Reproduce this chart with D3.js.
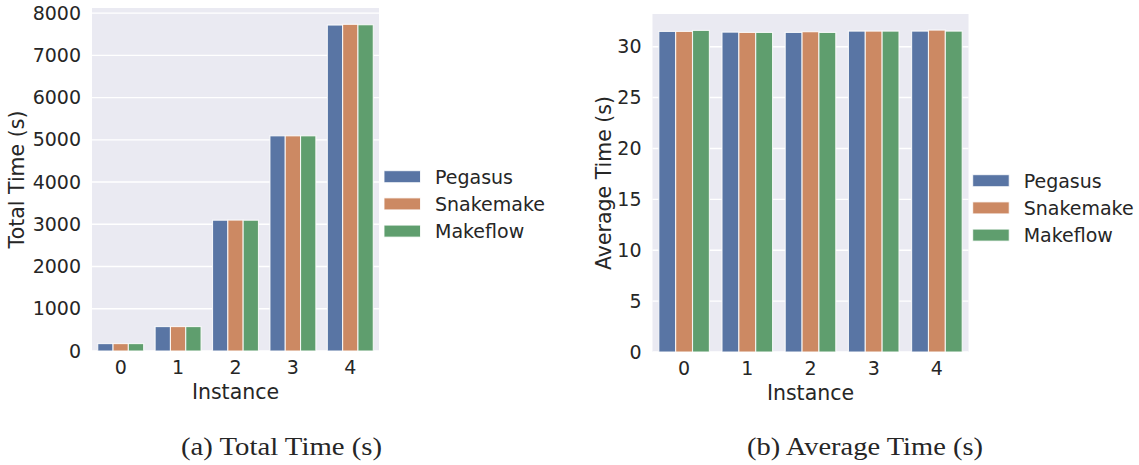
<!DOCTYPE html>
<html>
<head>
<meta charset="utf-8">
<script src="https://cdn.jsdelivr.net/npm/d3@7"></script>
<style>
  html, body { margin: 0; padding: 0; background: #ffffff; }
  svg { display: block; }
  text { font-family: "DejaVu Sans", sans-serif; fill: #262626; }
</style>
</head>
<body>
<svg id="fig" width="1139" height="465"></svg>
<script>
// Instances and workflow systems
const instances = ["0", "1", "2", "3", "4"];
const systems = ["Pegasus", "Snakemake", "Makeflow"];
const systemColors = ["#5975a4", "#cc8963", "#5f9e6e"];

// Total time (s) per instance, one array per system
const totalPegasus   = [175, 578, 3097, 5095, 7718];
const totalSnakemake = [175, 578, 3100, 5095, 7735];
const totalMakeflow  = [175, 578, 3097, 5095, 7725];

// Average time (s) per instance, one array per system
const avgPegasus   = [31.50, 31.43, 31.40, 31.53, 31.53];
const avgSnakemake = [31.50, 31.40, 31.47, 31.53, 31.63];
const avgMakeflow  = [31.60, 31.40, 31.40, 31.53, 31.53];

// Tick values
const totalTicks = [0, 1000, 2000, 3000, 4000, 5000, 6000, 7000, 8000];
const avgTicks = [0, 5, 10, 15, 20, 25, 30];

const svg = d3.select("#fig");

function panel(cfg) {
  const { x0, x1, y0, y1, series, ticks, yLabel, yLabelX, legendX, legendY, caption, captionX, captionW } = cfg;
  const g = svg.append("g");

  const ymax = d3.max(series.flat()) * 1.05;
  const y = d3.scaleLinear().domain([0, ymax]).range([y1, y0]);
  const x = d3.scaleBand().domain(instances).range([x0, x1]).paddingInner(0.2).paddingOuter(0.1);
  const xs = d3.scaleBand().domain(systems).range([0, x.bandwidth()]);

  // plot background
  g.append("rect").attr("x", x0).attr("y", y0).attr("width", x1 - x0).attr("height", y1 - y0).attr("fill", "#eaeaf2");

  // horizontal grid
  g.append("g").selectAll("line").data(ticks).join("line")
    .attr("x1", x0).attr("x2", x1)
    .attr("y1", d => y(d)).attr("y2", d => y(d))
    .attr("stroke", "#ffffff").attr("stroke-width", 1.4);

  // bars
  const rows = [];
  series.forEach((vals, si) => vals.forEach((v, ii) => rows.push({ s: systems[si], si, inst: instances[ii], v })));
  g.append("g").selectAll("rect").data(rows).join("rect")
    .attr("x", d => x(d.inst) + xs(d.s))
    .attr("width", xs.bandwidth())
    .attr("y", d => y(d.v))
    .attr("height", d => y(0) - y(d.v))
    .attr("fill", d => systemColors[d.si])
    .attr("stroke", "#ffffff").attr("stroke-opacity", 0.85).attr("stroke-width", 1.1);

  // y axis
  const ya = g.append("g").attr("transform", `translate(${x0},0)`)
    .call(d3.axisLeft(y).tickValues(ticks).tickSize(0).tickPadding(11).tickFormat(d3.format("d")));
  ya.select(".domain").remove();
  ya.selectAll("text").style("font-size", "19px").style("font-family", "DejaVu Sans").attr("fill", "#262626");

  // x axis
  const xa = g.append("g").attr("transform", `translate(0,${y1})`)
    .call(d3.axisBottom(x).tickSize(0).tickPadding(10));
  xa.select(".domain").remove();
  xa.selectAll("text").style("font-size", "19px").style("font-family", "DejaVu Sans").attr("fill", "#262626");

  // axis labels
  g.append("text").attr("x", (x0 + x1) / 2).attr("y", y1 + 48)
    .attr("text-anchor", "middle").style("font-size", "20.5px").text("Instance");
  g.append("text")
    .attr("transform", `translate(${yLabelX},${(y0 + y1) / 2}) rotate(-90)`)
    .attr("text-anchor", "middle").style("font-size", "20.5px").text(yLabel);

  // legend
  const lg = g.append("g").attr("transform", `translate(${legendX},${legendY})`);
  systems.forEach((s, i) => {
    const row = lg.append("g").attr("transform", `translate(0,${i * 27.2})`);
    row.append("rect").attr("x", 0).attr("y", -6).attr("width", 36.5).attr("height", 12)
      .attr("fill", systemColors[i]).attr("stroke", "#ffffff").attr("stroke-opacity", 0.85).attr("stroke-width", 1);
    row.append("text").attr("x", 51).attr("y", 6.8).style("font-size", "19px").text(s);
  });

  // caption
  svg.append("text").attr("x", captionX).attr("y", 455)
    .attr("textLength", captionW).attr("lengthAdjust", "spacingAndGlyphs")
    .style("font-family", "'Liberation Serif', serif").style("font-size", "24.5px").attr("fill", "#000000")
    .text(caption);
}

panel({
  x0: 92, x1: 379, y0: 8, y1: 351,
  series: [totalPegasus, totalSnakemake, totalMakeflow],
  ticks: totalTicks, yLabel: "Total Time (s)", yLabelX: 24,
  legendX: 384, legendY: 176.7,
  caption: "(a) Total Time (s)", captionX: 181, captionW: 201
});

panel({
  x0: 652.5, x1: 968.5, y0: 14, y1: 352,
  series: [avgPegasus, avgSnakemake, avgMakeflow],
  ticks: avgTicks, yLabel: "Average Time (s)", yLabelX: 611,
  legendX: 972.7, legendY: 180.7,
  caption: "(b) Average Time (s)", captionX: 747, captionW: 236
});
</script>
</body>
</html>
